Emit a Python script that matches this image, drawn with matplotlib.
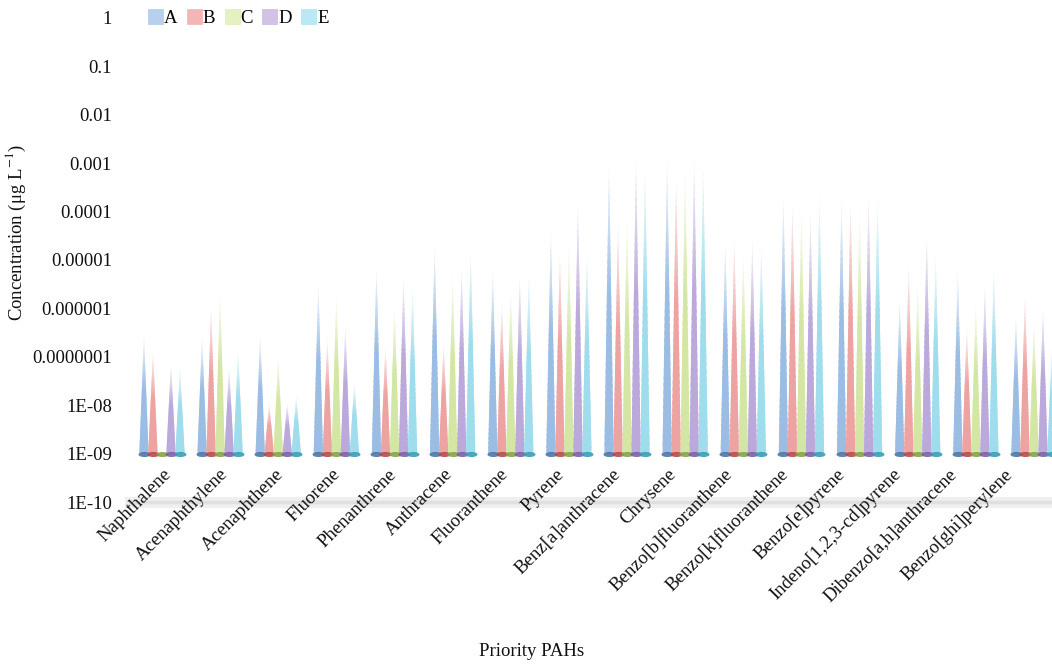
import numpy as np
import matplotlib
matplotlib.use("Agg")
import matplotlib.pyplot as plt
import matplotlib.transforms as mtransforms
from matplotlib.collections import PolyCollection
from matplotlib.patches import Patch
from matplotlib.path import Path
from matplotlib.colors import to_rgb

plt.rcParams['font.family'] = ['Liberation Serif', 'DejaVu Serif']
plt.rcParams['mathtext.fontset'] = 'stix'

compounds = ["Naphthalene", "Acenaphthylene", "Acenaphthene", "Fluorene",
             "Phenanthrene", "Anthracene", "Fluoranthene", "Pyrene",
             "Benz[a]anthracene", "Chrysene", "Benzo[b]fluoranthene",
             "Benzo[k]fluoranthene", "Benzo[e]pyrene", "Indeno[1,2,3-cd]pyrene",
             "Dibenzo[a,h]anthracene", "Benzo[ghi]perylene"]

series_names = ["A", "B", "C", "D", "E"]

conc_A = [2.8e-7, 2.6e-7, 2.8e-7, 3.5e-6, 7.8e-6, 2.2e-5, 6.8e-6, 4.2e-5,
          1.05e-3, 1.26e-3, 2.6e-5, 2.4e-4, 2.0e-4, 1.6e-6, 6.2e-6, 7.2e-7]
conc_B = [1.3e-7, 1.1e-6, 1.1e-8, 2.4e-7, 1.7e-7, 1.9e-7, 1.35e-6, 1.45e-5,
          5.7e-5, 5.6e-4, 2.8e-5, 1.6e-4, 1.9e-4, 7.8e-6, 3.9e-7, 1.85e-6]
conc_C = [1.0e-9, 2.0e-6, 9.8e-8, 1.9e-6, 1.2e-6, 4.9e-6, 2.6e-6, 2.0e-5,
          7.2e-5, 7.9e-4, 1.45e-5, 1.26e-4, 1.07e-4, 3.0e-6, 1.26e-6, 5.2e-7]
conc_D = [7.0e-8, 6.0e-8, 1.1e-8, 4.5e-7, 4.9e-6, 7.8e-6, 4.9e-6, 1.6e-4,
          1.3e-3, 1.3e-3, 2.8e-5, 1.07e-4, 2.4e-4, 3.5e-5, 3.0e-6, 1.0e-6]
conc_E = [6.0e-8, 1.3e-7, 1.6e-8, 3.0e-8, 3.0e-6, 1.7e-5, 5.4e-6, 1.45e-5,
          8.3e-4, 1.05e-3, 2.3e-5, 2.4e-4, 2.2e-4, 1.26e-5, 7.1e-6, 1.6e-7]

ytick_values = [1e-10, 1e-9, 1e-8, 1e-7, 1e-6, 1e-5, 1e-4, 1e-3, 1e-2, 1e-1, 1]
ytick_labels = ["1E-10", "1E-09", "1E-08", "0.0000001", "0.000001", "0.00001",
                "0.0001", "0.001", "0.01", "0.1", "1"]

cone_colors = ["#9bbde3", "#eea3a3", "#d3e6a4", "#bba9db", "#9fdcec"]
base_colors = ["#4d74a6", "#b54a4a", "#86a34a", "#7a60a3", "#3a9db5"]
legend_colors = ["#a9c8ec", "#f2aaaa", "#e0f0b8", "#cbb9e2", "#ade6f3"]

all_series = [conc_A, conc_B, conc_C, conc_D, conc_E]
base_level = 1e-9

fig = plt.figure(figsize=(10.52, 6.64), dpi=100)
ax = fig.add_axes([130 / 1052, 1 - 502 / 664, 922 / 1052, 484 / 664])
ax.set_yscale("log")
ax.set_ylim(1e-10, 1)
ax.set_xlim(-0.55, 15.31)

slot = 0.155
cone_w = 0.16
n_slices = 40
white = np.ones(3)

# one flat ellipse marker for the cone bases
theta = np.linspace(0, 2 * np.pi, 60)
ell = Path(np.column_stack([np.cos(theta), 0.42 * np.sin(theta)]), closed=True)

for s, vals in enumerate(all_series):
    xs = np.arange(len(compounds)) + (s - 2) * slot
    rgb = np.array(to_rgb(cone_colors[s]))
    polys, fcols = [], []
    for x, v in zip(xs, vals):
        lb, lt = np.log10(base_level), np.log10(v)
        if lt - lb < 1e-3:
            continue
        for k in range(n_slices):
            f0 = k / n_slices
            f1 = min(1.0, (k + 1.6) / n_slices)  # slight overlap hides seams
            y0 = 10 ** (lb + (lt - lb) * f0)
            y1 = 10 ** (lb + (lt - lb) * f1)
            h0 = cone_w / 2 * (1 - f0)
            h1 = cone_w / 2 * (1 - f1)
            polys.append([(x - h0, y0), (x + h0, y0), (x + h1, y1), (x - h1, y1)])
            fm = (k + 0.5) / n_slices
            keep = 1.0 if fm < 0.55 else max(0.0, (1 - fm) / 0.45) ** 0.9
            fcols.append(tuple(white + (rgb - white) * keep))
    ax.add_collection(PolyCollection(polys, facecolors=fcols, edgecolors="none",
                                     zorder=2 + s * 0.01))
    ax.scatter(xs, [base_level] * len(xs), marker=ell, s=75, color=base_colors[s],
               alpha=0.9, linewidths=0, zorder=3)

# floor of the plot
ax.axhline(1e-10, color="#efefef", lw=8, clip_on=False, zorder=1)
ax.axhline(1e-10, color="#e0e0e0", lw=2.5, clip_on=False, zorder=1)

for sp in ax.spines.values():
    sp.set_visible(False)

ax.set_yticks(ytick_values)
ax.set_yticklabels(ytick_labels)
ax.minorticks_off()
ax.tick_params(axis="y", length=0, pad=13, labelsize=13.5, colors="#111111")

# category labels sit on the front edge of the floor, slightly tighter than the cones
label_pos = np.arange(len(compounds)) * 0.965
ax.set_xticks(label_pos)
ax.set_xticklabels(compounds, rotation=45, ha="right", rotation_mode="anchor")
ax.tick_params(axis="x", length=0, pad=-26, labelsize=13.5, colors="#111111")
shift = mtransforms.ScaledTranslation(1 / 100, 0, fig.dpi_scale_trans)
for lab in ax.get_xticklabels():
    lab.set_transform(lab.get_transform() + shift)

ax.set_ylabel(r"Concentration (μg L$^{-1}$)", fontsize=13.5, color="#111111")
ax.yaxis.set_label_coords(-0.1106, 0.556)

fig.text(532 / 1052, 1 - 651 / 664, "Priority PAHs", ha="center", va="center",
         fontsize=13.5, color="#111111")

handles = [Patch(facecolor=c, edgecolor=bc, linewidth=0.4, alpha=0.85)
           for c, bc in zip(legend_colors, cone_colors)]
fig.legend(handles, series_names, loc="center left",
           bbox_to_anchor=(148 / 1052, 1 - 18 / 664), ncol=5, frameon=False,
           fontsize=13.5, handlelength=0.8, handleheight=0.8,
           handletextpad=0.05, columnspacing=0.5, borderaxespad=0, borderpad=0)

fig.savefig("out.png", dpi=100)
